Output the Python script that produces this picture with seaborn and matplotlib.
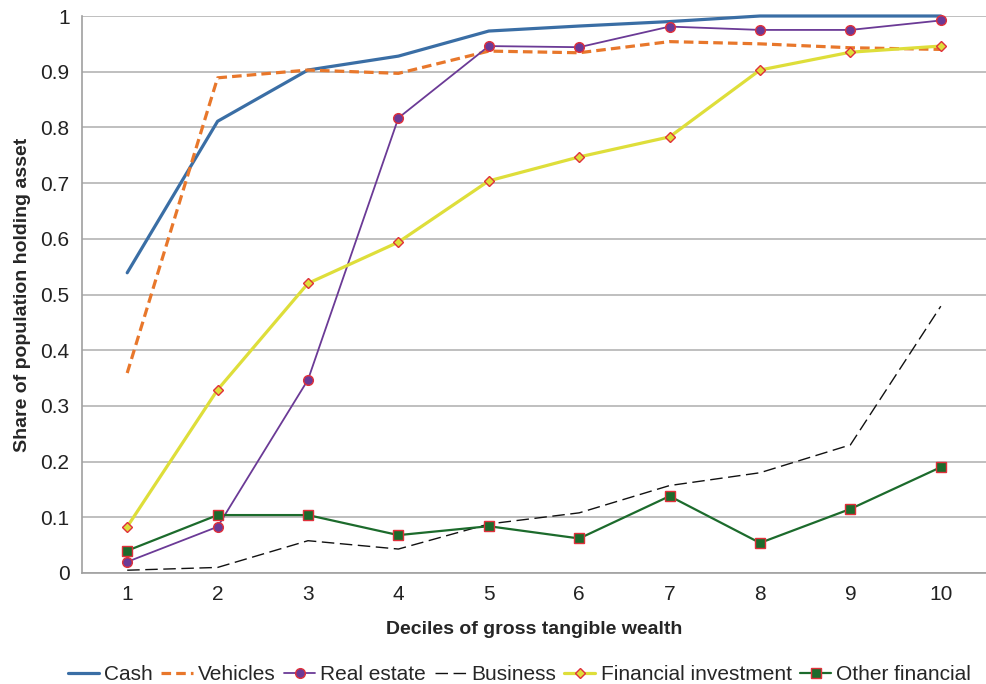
import pandas as pd
import matplotlib.pyplot as plt
import seaborn as sns

# Share of population holding each asset, by decile of gross tangible wealth
deciles = [1, 2, 3, 4, 5, 6, 7, 8, 9, 10]
cash = [0.539, 0.811, 0.903, 0.928, 0.973, 0.982, 0.990, 1.0, 1.0, 1.0]
vehicles = [0.359, 0.889, 0.903, 0.897, 0.937, 0.934, 0.954, 0.950, 0.943, 0.940]
real_estate = [0.020, 0.083, 0.347, 0.817, 0.946, 0.944, 0.981, 0.975, 0.975, 0.992]
business = [0.005, 0.010, 0.058, 0.043, 0.088, 0.108, 0.157, 0.180, 0.230, 0.479]
fin_invest = [0.083, 0.329, 0.520, 0.594, 0.704, 0.747, 0.783, 0.903, 0.935, 0.946]
other_fin = [0.040, 0.104, 0.104, 0.068, 0.084, 0.062, 0.138, 0.054, 0.115, 0.190]

df = pd.DataFrame({
    'Decile': deciles,
    'Cash': cash,
    'Vehicles': vehicles,
    'Real estate': real_estate,
    'Business': business,
    'Financial investment': fin_invest,
    'Other financial': other_fin,
})

sns.set_style("white")
plt.rcParams['font.family'] = ['Liberation Sans', 'DejaVu Sans']

fig = plt.figure(figsize=(9.86, 6.84), dpi=100)
ax = fig.add_axes([82 / 986, 111 / 684, 904 / 986, 557 / 684])

styles = {
    'Cash': dict(color='#3A6EA5', linewidth=2.3),
    'Vehicles': dict(color='#E8772B', linewidth=2.3, dashes=(3, 1.6)),
    'Real estate': dict(color='#6B3A96', linewidth=1.3, marker='o', markersize=7,
                        markerfacecolor='#6B3A96', markeredgecolor='#E0303A', markeredgewidth=1.0),
    'Business': dict(color='#111111', linewidth=1.0, dashes=(9, 4)),
    'Financial investment': dict(color='#DEDE3A', linewidth=2.3, marker='D', markersize=5,
                                 markerfacecolor='#DEDE3A', markeredgecolor='#E0303A', markeredgewidth=1.0),
    'Other financial': dict(color='#1C6B2C', linewidth=1.6, marker='s', markersize=7,
                            markerfacecolor='#1C6B2C', markeredgecolor='#E0303A', markeredgewidth=1.0),
}

for name, kw in styles.items():
    sns.lineplot(data=df, x='Decile', y=name, ax=ax, label=name, clip_on=False, **kw)

ax.set_xlim(0.5, 10.46)
ax.set_ylim(0, 1)
ax.set_xticks(deciles)
ax.set_xticks([d + 0.5 for d in [0] + deciles], minor=True)
ax.set_yticks([0, 0.1, 0.2, 0.3, 0.4, 0.5, 0.6, 0.7, 0.8, 0.9, 1.0])
ax.set_yticklabels(['0', '0.1', '0.2', '0.3', '0.4', '0.5', '0.6', '0.7', '0.8', '0.9', '1'])
ax.tick_params(axis='x', which='major', length=0, labelsize=15, pad=9, colors='#222222')
ax.tick_params(axis='x', which='minor', length=5, color='#A0A0A0', width=1)
ax.tick_params(axis='y', which='major', length=5, labelsize=15, pad=4, colors='#222222')
ax.tick_params(axis='y', which='major', color='#A0A0A0')
ax.grid(axis='y', color='#B4B4B4', linewidth=1.2)
ax.set_axisbelow(True)
for s in ['top', 'right']:
    ax.spines[s].set_visible(False)
for s in ['left', 'bottom']:
    ax.spines[s].set_color('#A0A0A0')
    ax.spines[s].set_linewidth(1.2)

ax.set_xlabel("Deciles of gross tangible wealth", fontsize=14, fontweight='bold', labelpad=12)
ax.set_ylabel("Share of population holding asset", fontsize=14, fontweight='bold', labelpad=7)

handles, labels = ax.get_legend_handles_labels()
ax.get_legend().remove()
fig.legend(handles, labels, loc='lower center', bbox_to_anchor=(0.527, -0.028), ncol=6,
           frameon=False, fontsize=15, handlelength=1.5, columnspacing=0.4, handletextpad=0.25)

plt.savefig('out.png', dpi=100)
